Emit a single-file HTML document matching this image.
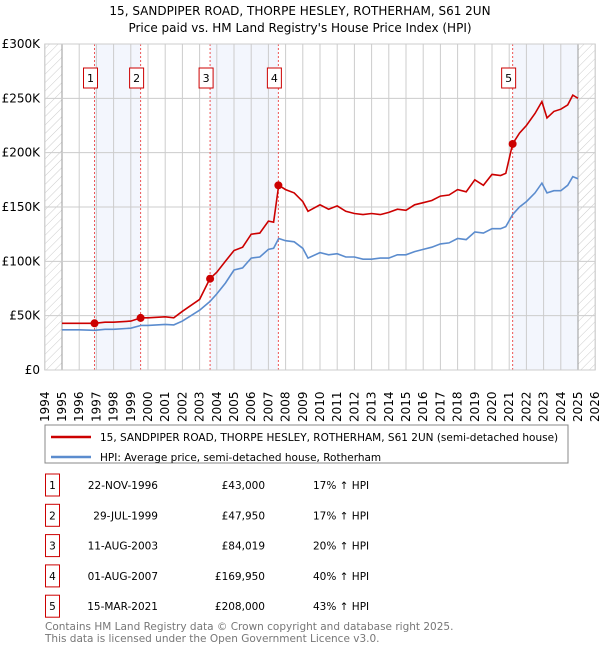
<!DOCTYPE html>
<html><head><meta charset="utf-8"><style>
body{margin:0;background:#fff;font-family:"DejaVu Sans","Liberation Sans",sans-serif;}
svg text{font-family:"DejaVu Sans","Liberation Sans",sans-serif;}
</style></head><body>
<svg id="c" width="600" height="650" xmlns="http://www.w3.org/2000/svg">
<defs><pattern id="h" width="6" height="6" patternUnits="userSpaceOnUse" patternTransform="rotate(45)"><line x1="0" y1="0" x2="0" y2="6" stroke="#ccc" stroke-width="1"/></pattern></defs>
<text x="300" y="15" text-anchor="middle" font-size="12">15, SANDPIPER ROAD, THORPE HESLEY, ROTHERHAM, S61 2UN</text>
<text x="300" y="32" text-anchor="middle" font-size="12">Price paid vs. HM Land Registry's House Price Index (HPI)</text>
<g id="plot"></g>
<rect x="45" y="425" width="523" height="38" fill="#fff" stroke="#888"/>
<line x1="51" y1="437" x2="91" y2="437" stroke="#cc0000" stroke-width="2.5"/>
<text x="100" y="441" font-size="10.5">15, SANDPIPER ROAD, THORPE HESLEY, ROTHERHAM, S61 2UN (semi-detached house)</text>
<line x1="51" y1="457" x2="91" y2="457" stroke="#5b8cce" stroke-width="2.5"/>
<text x="100" y="461" font-size="10.5">HPI: Average price, semi-detached house, Rotherham</text>
<g id="table" font-size="10.5"></g>
<text x="45" y="630" font-size="10.5" fill="#777">Contains HM Land Registry data © Crown copyright and database right 2025.</text>
<text x="45" y="642" font-size="10.5" fill="#777">This data is licensed under the Open Government Licence v3.0.</text>
</svg>
<script>
const hpiYears=[1995,1996,1996.9,1997.5,1998,1999,1999.6,2000,2001,2001.5,2002,2003,2003.6,2004,2004.5,2005,2005.5,2006,2006.5,2007,2007.3,2007.6,2008,2008.5,2009,2009.3,2010,2010.5,2011,2011.5,2012,2012.5,2013,2013.5,2014,2014.5,2015,2015.5,2016,2016.5,2017,2017.5,2018,2018.5,2019,2019.5,2020,2020.5,2020.8,2021.2,2021.6,2022,2022.5,2022.9,2023.2,2023.6,2024,2024.4,2024.7,2025];
const hpiValues=[37,37,36.5,37.5,37.5,38.5,41,41,42,41.5,45,55,63,70,80,92,94,103,104,111,112,121,119,118,112,103,108,106,107,104,104,102,102,103,103,106,106,109,111,113,116,117,121,120,127,126,130,130,132,143,150,155,163,172,163,165,165,170,178,176];
const priceYears=hpiYears;
const priceValues=[43,43,43,44,44,45,48,48,49,48,54,65,84,90,100,110,113,125,126,137,136,170,166,163,155,146,152,148,151,146,144,143,144,143,145,148,147,152,154,156,160,161,166,164,175,170,180,179,181,208,218,225,236,247,232,238,240,244,253,250];
const saleYears=[1996.89,1999.57,2003.61,2007.58,2021.2];
const salePrices=[43000,47950,84019,169950,208000];
const saleLabels=["1","2","3","4","5"];
const saleDates=["22-NOV-1996","29-JUL-1999","11-AUG-2003","01-AUG-2007","15-MAR-2021"];
const salePriceText=["£43,000","£47,950","£84,019","£169,950","£208,000"];
const saleHpiText=["17% ↑ HPI","17% ↑ HPI","20% ↑ HPI","40% ↑ HPI","43% ↑ HPI"];
const yTicks=[0,50,100,150,200,250,300];
const yTickLabels=["£0","£50K","£100K","£150K","£200K","£250K","£300K"];
const xTicks=[1994,1995,1996,1997,1998,1999,2000,2001,2002,2003,2004,2005,2006,2007,2008,2009,2010,2011,2012,2013,2014,2015,2016,2017,2018,2019,2020,2021,2022,2023,2024,2025,2026];

const NS="http://www.w3.org/2000/svg";
const X=y=>44.8+(y-1994)*17.2;
const Y=v=>370-v*326/300;
function mk(t,a,p){const e=document.createElementNS(NS,t);for(const k in a)e.setAttribute(k,a[k]);(p||g).appendChild(e);return e;}
const g=document.getElementById('plot');
for(let i=0;i<saleYears.length;i+=2){
  const x1=X(saleYears[i]),x2=i+1<saleYears.length?X(saleYears[i+1]):X(2025);
  const r=mk('rect',{x:x1,y:Y(300),width:x2-x1,height:Y(0)-Y(300),fill:'#f3f6fd'});
  
  
}
let hl=mk('rect',{x:X(1994),y:Y(300),width:X(1995)-X(1994),height:Y(0)-Y(300),fill:'url(#h)'});


let hr=mk('rect',{x:X(2025),y:Y(300),width:X(2026)-X(2025),height:Y(0)-Y(300),fill:'url(#h)'});


xTicks.forEach((t,i)=>{
  const l=mk('line',{x1:X(t),x2:X(t),y1:Y(300),y2:Y(0),stroke:(t==1995||t==2025)?'#999':'#ccc','stroke-width':1});
  
  
  const tx=mk('text',{transform:`translate(${X(t)+4},${Y(0)+52}) rotate(-90)`,'font-size':12});
  tx.textContent=t;
  
  
});
yTicks.forEach((t,i)=>{
  const l=mk('line',{x1:X(1994),x2:X(2026),y1:Y(t),y2:Y(t),stroke:'#ccc','stroke-width':1});
  
  
  const tx=mk('text',{x:40,y:Y(t)+4,'text-anchor':'end','font-size':12});
  tx.textContent=yTickLabels[i];
  
  
});
saleYears.forEach((s,i)=>{
  const l=mk('line',{x1:X(s),x2:X(s),y1:Y(300),y2:Y(0),stroke:'#e55','stroke-width':1,'stroke-dasharray':'2,2'});
  
  
  const b=mk('rect',{x:X(s)-11,y:68,width:14,height:20,fill:'#fff',stroke:'#cc0000'});
  
  
  const t=mk('text',{x:X(s)-4,y:82,'text-anchor':'middle','font-size':11});
  t.textContent=saleLabels[i];
  
  
});
const pts=(xs,vs)=>xs.map((x,i)=>X(x).toFixed(1)+','+Y(vs[i]).toFixed(1)).join(' ');
const hl2=mk('polyline',{points:pts(hpiYears,hpiValues),fill:'none',stroke:'#5b8cce','stroke-width':1.6});


const pl=mk('polyline',{points:pts(priceYears,priceValues),fill:'none',stroke:'#cc0000','stroke-width':1.6});


saleYears.forEach((s,i)=>{
  const c=mk('circle',{cx:X(s),cy:Y(salePrices[i]/1000),r:4,fill:'#cc0000'});
  
  
});
const fr=mk('rect',{x:X(1994),y:Y(300),width:X(2026)-X(1994),height:Y(0)-Y(300),fill:'none',stroke:'#ccc'});


const tb=document.getElementById('table');
saleLabels.forEach((lab,i)=>{
  const y=487+i*30.3;
  const b=mk('rect',{x:45.5,y:y-13,width:14,height:22,fill:'#fff',stroke:'#cc0000'},tb);
  
  
  const t0=mk('text',{x:52.5,y:y+2,'text-anchor':'middle'},tb);t0.textContent=lab;
  
  
  const t1=mk('text',{x:158,y:y+2,'text-anchor':'end'},tb);t1.textContent=saleDates[i];
  
  
  const t2=mk('text',{x:265,y:y+2,'text-anchor':'end'},tb);t2.textContent=salePriceText[i];
  
  
  const t3=mk('text',{x:313,y:y+2},tb);t3.textContent=saleHpiText[i];
  
  
});
</script>
</body></html>
